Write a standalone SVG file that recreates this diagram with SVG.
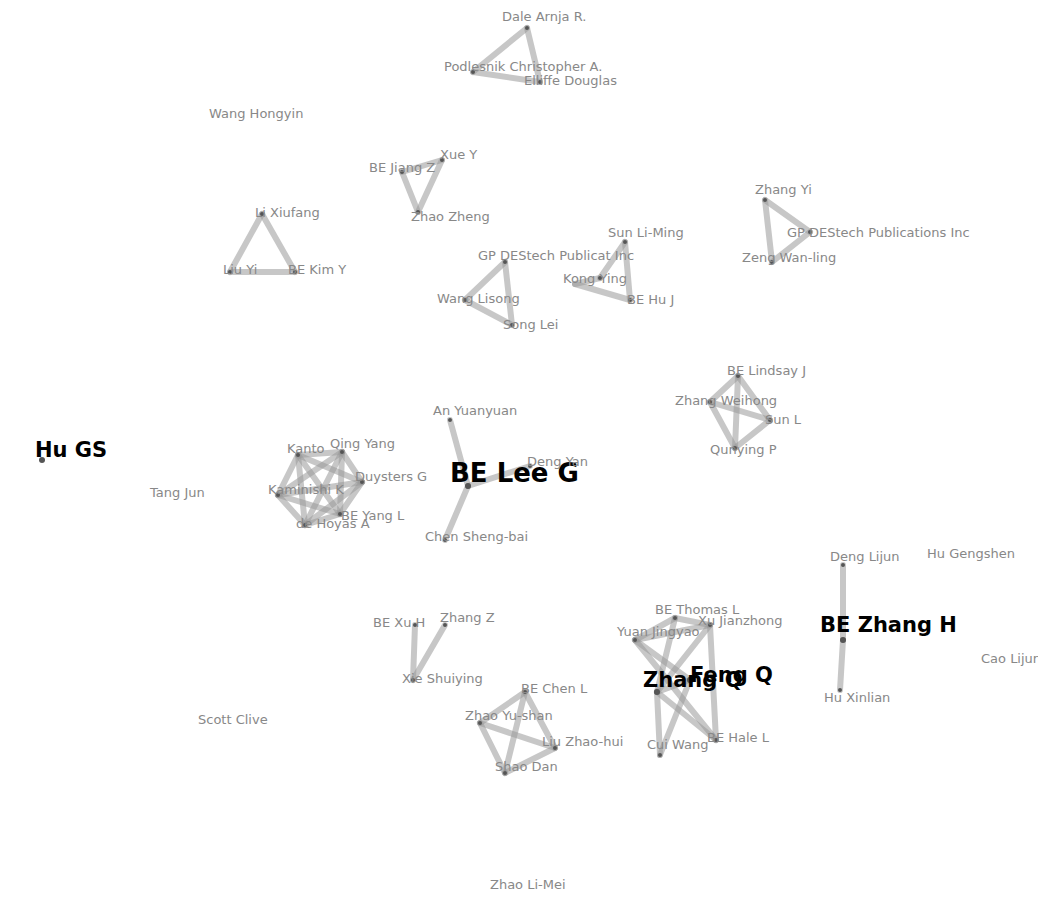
<svg xmlns="http://www.w3.org/2000/svg" width="1038" height="918" viewBox="0 0 1038 918">
<style>
.e line{stroke:#999;stroke-opacity:.55;stroke-width:6;stroke-linecap:round}
.n circle{fill:#555}
.n text{font-family:"DejaVu Sans",sans-serif;font-size:13px;fill:#888}
.n text.b{font-size:21px;fill:#000;font-weight:bold}
</style>
<rect width="1038" height="918" fill="#fff"/>
<g id="connectors" class="e">
<line x1="527" y1="28" x2="473" y2="72"/><line x1="527" y1="28" x2="540" y2="82"/><line x1="473" y1="72" x2="540" y2="82"/>
<line x1="442" y1="160" x2="402" y2="172"/><line x1="442" y1="160" x2="418" y2="212"/><line x1="402" y1="172" x2="418" y2="212"/>
<line x1="262" y1="214" x2="230" y2="272"/><line x1="262" y1="214" x2="295" y2="272"/><line x1="230" y1="272" x2="295" y2="272"/>
<line x1="765" y1="200" x2="810" y2="232"/><line x1="765" y1="200" x2="772" y2="262"/><line x1="810" y1="232" x2="772" y2="262"/>
<line x1="625" y1="242" x2="600" y2="278"/><line x1="625" y1="242" x2="630" y2="300"/><line x1="575" y1="284" x2="630" y2="300"/><line x1="600" y1="278" x2="575" y2="284"/>
<line x1="505" y1="262" x2="465" y2="300"/><line x1="505" y1="262" x2="512" y2="325"/><line x1="465" y1="300" x2="512" y2="325"/>
<line x1="738" y1="376" x2="710" y2="402"/><line x1="738" y1="376" x2="770" y2="420"/><line x1="738" y1="376" x2="735" y2="448"/><line x1="710" y1="402" x2="770" y2="420"/><line x1="710" y1="402" x2="735" y2="448"/><line x1="770" y1="420" x2="735" y2="448"/>
<line x1="298" y1="455" x2="342" y2="452"/><line x1="298" y1="455" x2="362" y2="482"/><line x1="298" y1="455" x2="340" y2="514"/><line x1="298" y1="455" x2="305" y2="525"/><line x1="298" y1="455" x2="278" y2="495"/>
<line x1="342" y1="452" x2="362" y2="482"/><line x1="342" y1="452" x2="340" y2="514"/><line x1="342" y1="452" x2="305" y2="525"/><line x1="342" y1="452" x2="278" y2="495"/>
<line x1="362" y1="482" x2="340" y2="514"/><line x1="362" y1="482" x2="305" y2="525"/><line x1="362" y1="482" x2="278" y2="495"/>
<line x1="340" y1="514" x2="305" y2="525"/><line x1="340" y1="514" x2="278" y2="495"/><line x1="305" y1="525" x2="278" y2="495"/>
<line x1="450" y1="420" x2="468" y2="486"/><line x1="468" y1="486" x2="445" y2="540"/><line x1="468" y1="486" x2="530" y2="466"/>
<line x1="843" y1="565" x2="843" y2="640"/><line x1="843" y1="640" x2="840" y2="690"/>
<line x1="415" y1="625" x2="413" y2="680"/><line x1="445" y1="625" x2="413" y2="680"/>
<line x1="675" y1="618" x2="710" y2="625"/><line x1="675" y1="618" x2="635" y2="640"/><line x1="710" y1="625" x2="635" y2="640"/>
<line x1="635" y1="640" x2="690" y2="680"/><line x1="635" y1="640" x2="716" y2="740"/><line x1="710" y1="625" x2="657" y2="692"/><line x1="710" y1="625" x2="716" y2="740"/>
<line x1="657" y1="692" x2="660" y2="755"/><line x1="657" y1="692" x2="716" y2="740"/><line x1="690" y1="680" x2="660" y2="755"/><line x1="657" y1="692" x2="690" y2="680"/><line x1="675" y1="618" x2="657" y2="692"/>
<line x1="525" y1="692" x2="480" y2="723"/><line x1="525" y1="692" x2="555" y2="748"/><line x1="525" y1="692" x2="505" y2="773"/><line x1="480" y1="723" x2="555" y2="748"/><line x1="480" y1="723" x2="505" y2="773"/><line x1="555" y1="748" x2="505" y2="773"/>
</g>
<g class="n">
<g id="n1"><circle cx="527" cy="28" r="2"/><text x="502" y="21">Dale Arnja R.</text></g>
<g id="n2"><circle cx="473" cy="72" r="2"/><text x="444" y="71">Podlesnik Christopher A.</text></g>
<g id="n3"><circle cx="540" cy="82" r="2"/><text x="524" y="85">Elliffe Douglas</text></g>
<g id="n4"><text x="209" y="118">Wang Hongyin</text></g>
<g id="n5"><circle cx="442" cy="160" r="2"/><text x="440" y="159">Xue Y</text></g>
<g id="n6"><circle cx="402" cy="172" r="2"/><text x="369" y="172">BE Jiang Z</text></g>
<g id="n7"><circle cx="418" cy="212" r="2"/><text x="411" y="221">Zhao Zheng</text></g>
<g id="n8"><circle cx="262" cy="214" r="2"/><text x="255" y="217">Li Xiufang</text></g>
<g id="n9"><circle cx="230" cy="272" r="2"/><text x="223" y="274">Liu Yi</text></g>
<g id="n10"><circle cx="295" cy="272" r="2"/><text x="288" y="274">BE Kim Y</text></g>
<g id="n11"><circle cx="765" cy="200" r="2"/><text x="755" y="194">Zhang Yi</text></g>
<g id="n12"><circle cx="810" cy="232" r="2"/><text x="787" y="237">GP DEStech Publications Inc</text></g>
<g id="n13"><circle cx="772" cy="262" r="2"/><text x="742" y="262">Zeng Wan-ling</text></g>
<g id="n14"><circle cx="625" cy="242" r="2"/><text x="608" y="237">Sun Li-Ming</text></g>
<g id="n15"><circle cx="505" cy="262" r="2"/><text x="478" y="260">GP DEStech Publicat Inc</text></g>
<g id="n16"><circle cx="600" cy="278" r="2"/><text x="563" y="283">Kong Ying</text></g>
<g id="n17"><circle cx="630" cy="300" r="2"/><text x="627" y="304">BE Hu J</text></g>
<g id="n18"><circle cx="465" cy="300" r="2"/><text x="437" y="303">Wang Lisong</text></g>
<g id="n19"><circle cx="512" cy="325" r="2"/><text x="503" y="329">Song Lei</text></g>
<g id="n20"><circle cx="738" cy="376" r="2"/><text x="727" y="375">BE Lindsay J</text></g>
<g id="n21"><circle cx="710" cy="402" r="2"/><text x="675" y="405">Zhang Weihong</text></g>
<g id="n22"><circle cx="770" cy="420" r="2"/><text x="765" y="424">Sun L</text></g>
<g id="n23"><circle cx="735" cy="448" r="2"/><text x="710" y="454">Qunying P</text></g>
<g id="n24"><circle cx="42" cy="460" r="3"/><text class="b" x="35" y="457">Hu GS</text></g>
<g id="n25"><text x="150" y="497">Tang Jun</text></g>
<g id="n26"><circle cx="450" cy="420" r="2"/><text x="433" y="415">An Yuanyuan</text></g>
<g id="n27"><circle cx="342" cy="452" r="2"/><text x="330" y="448">Qing Yang</text></g>
<g id="n28"><circle cx="298" cy="455" r="2"/><text x="287" y="453">Kanto</text></g>
<g id="n29"><circle cx="362" cy="482" r="2"/><text x="355" y="481">Duysters G</text></g>
<g id="n30"><circle cx="278" cy="495" r="2"/><text x="268" y="494">Kaminishi K</text></g>
<g id="n31"><circle cx="340" cy="514" r="2"/><text x="341" y="520">BE Yang L</text></g>
<g id="n32"><circle cx="305" cy="525" r="2"/><text x="296" y="528">de Hoyas A</text></g>
<g id="n33"><circle cx="468" cy="486" r="3"/><text class="b" x="450" y="482" style="font-size:26px">BE Lee G</text></g>
<g id="n34"><circle cx="530" cy="466" r="2"/><text x="527" y="466">Deng Yan</text></g>
<g id="n35"><circle cx="445" cy="540" r="2"/><text x="425" y="541">Chen Sheng-bai</text></g>
<g id="n36"><circle cx="843" cy="565" r="2"/><text x="830" y="561">Deng Lijun</text></g>
<g id="n37"><text x="927" y="558">Hu Gengshen</text></g>
<g id="n38"><circle cx="843" cy="640" r="3"/><text class="b" x="820" y="632">BE Zhang H</text></g>
<g id="n39"><text x="981" y="663">Cao Lijun</text></g>
<g id="n40"><circle cx="840" cy="690" r="2"/><text x="824" y="702">Hu Xinlian</text></g>
<g id="n41"><circle cx="415" cy="625" r="2"/><text x="373" y="627">BE Xu H</text></g>
<g id="n42"><circle cx="445" cy="625" r="2"/><text x="440" y="622">Zhang Z</text></g>
<g id="n43"><circle cx="413" cy="680" r="2"/><text x="402" y="683">Xie Shuiying</text></g>
<g id="n44"><text x="198" y="724">Scott Clive</text></g>
<g id="n45"><circle cx="675" cy="618" r="2"/><text x="655" y="614">BE Thomas L</text></g>
<g id="n46"><circle cx="710" cy="625" r="2"/><text x="698" y="625">Xu Jianzhong</text></g>
<g id="n47"><circle cx="635" cy="640" r="2"/><text x="617" y="636">Yuan Jingyao</text></g>
<g id="n48"><circle cx="690" cy="680" r="3"/><text class="b" x="690" y="682">Feng Q</text></g>
<g id="n49"><circle cx="657" cy="692" r="3"/><text class="b" x="643" y="687">Zhang Q</text></g>
<g id="n50"><circle cx="660" cy="755" r="2"/><text x="647" y="749">Cui Wang</text></g>
<g id="n51"><circle cx="716" cy="740" r="2"/><text x="707" y="742">BE Hale L</text></g>
<g id="n52"><circle cx="525" cy="692" r="2"/><text x="521" y="693">BE Chen L</text></g>
<g id="n53"><circle cx="480" cy="723" r="2"/><text x="465" y="720">Zhao Yu-shan</text></g>
<g id="n54"><circle cx="555" cy="748" r="2"/><text x="542" y="746">Liu Zhao-hui</text></g>
<g id="n55"><circle cx="505" cy="773" r="2"/><text x="495" y="771">Shao Dan</text></g>
<g id="n56"><text x="490" y="889">Zhao Li-Mei</text></g>
</g>
</svg>
